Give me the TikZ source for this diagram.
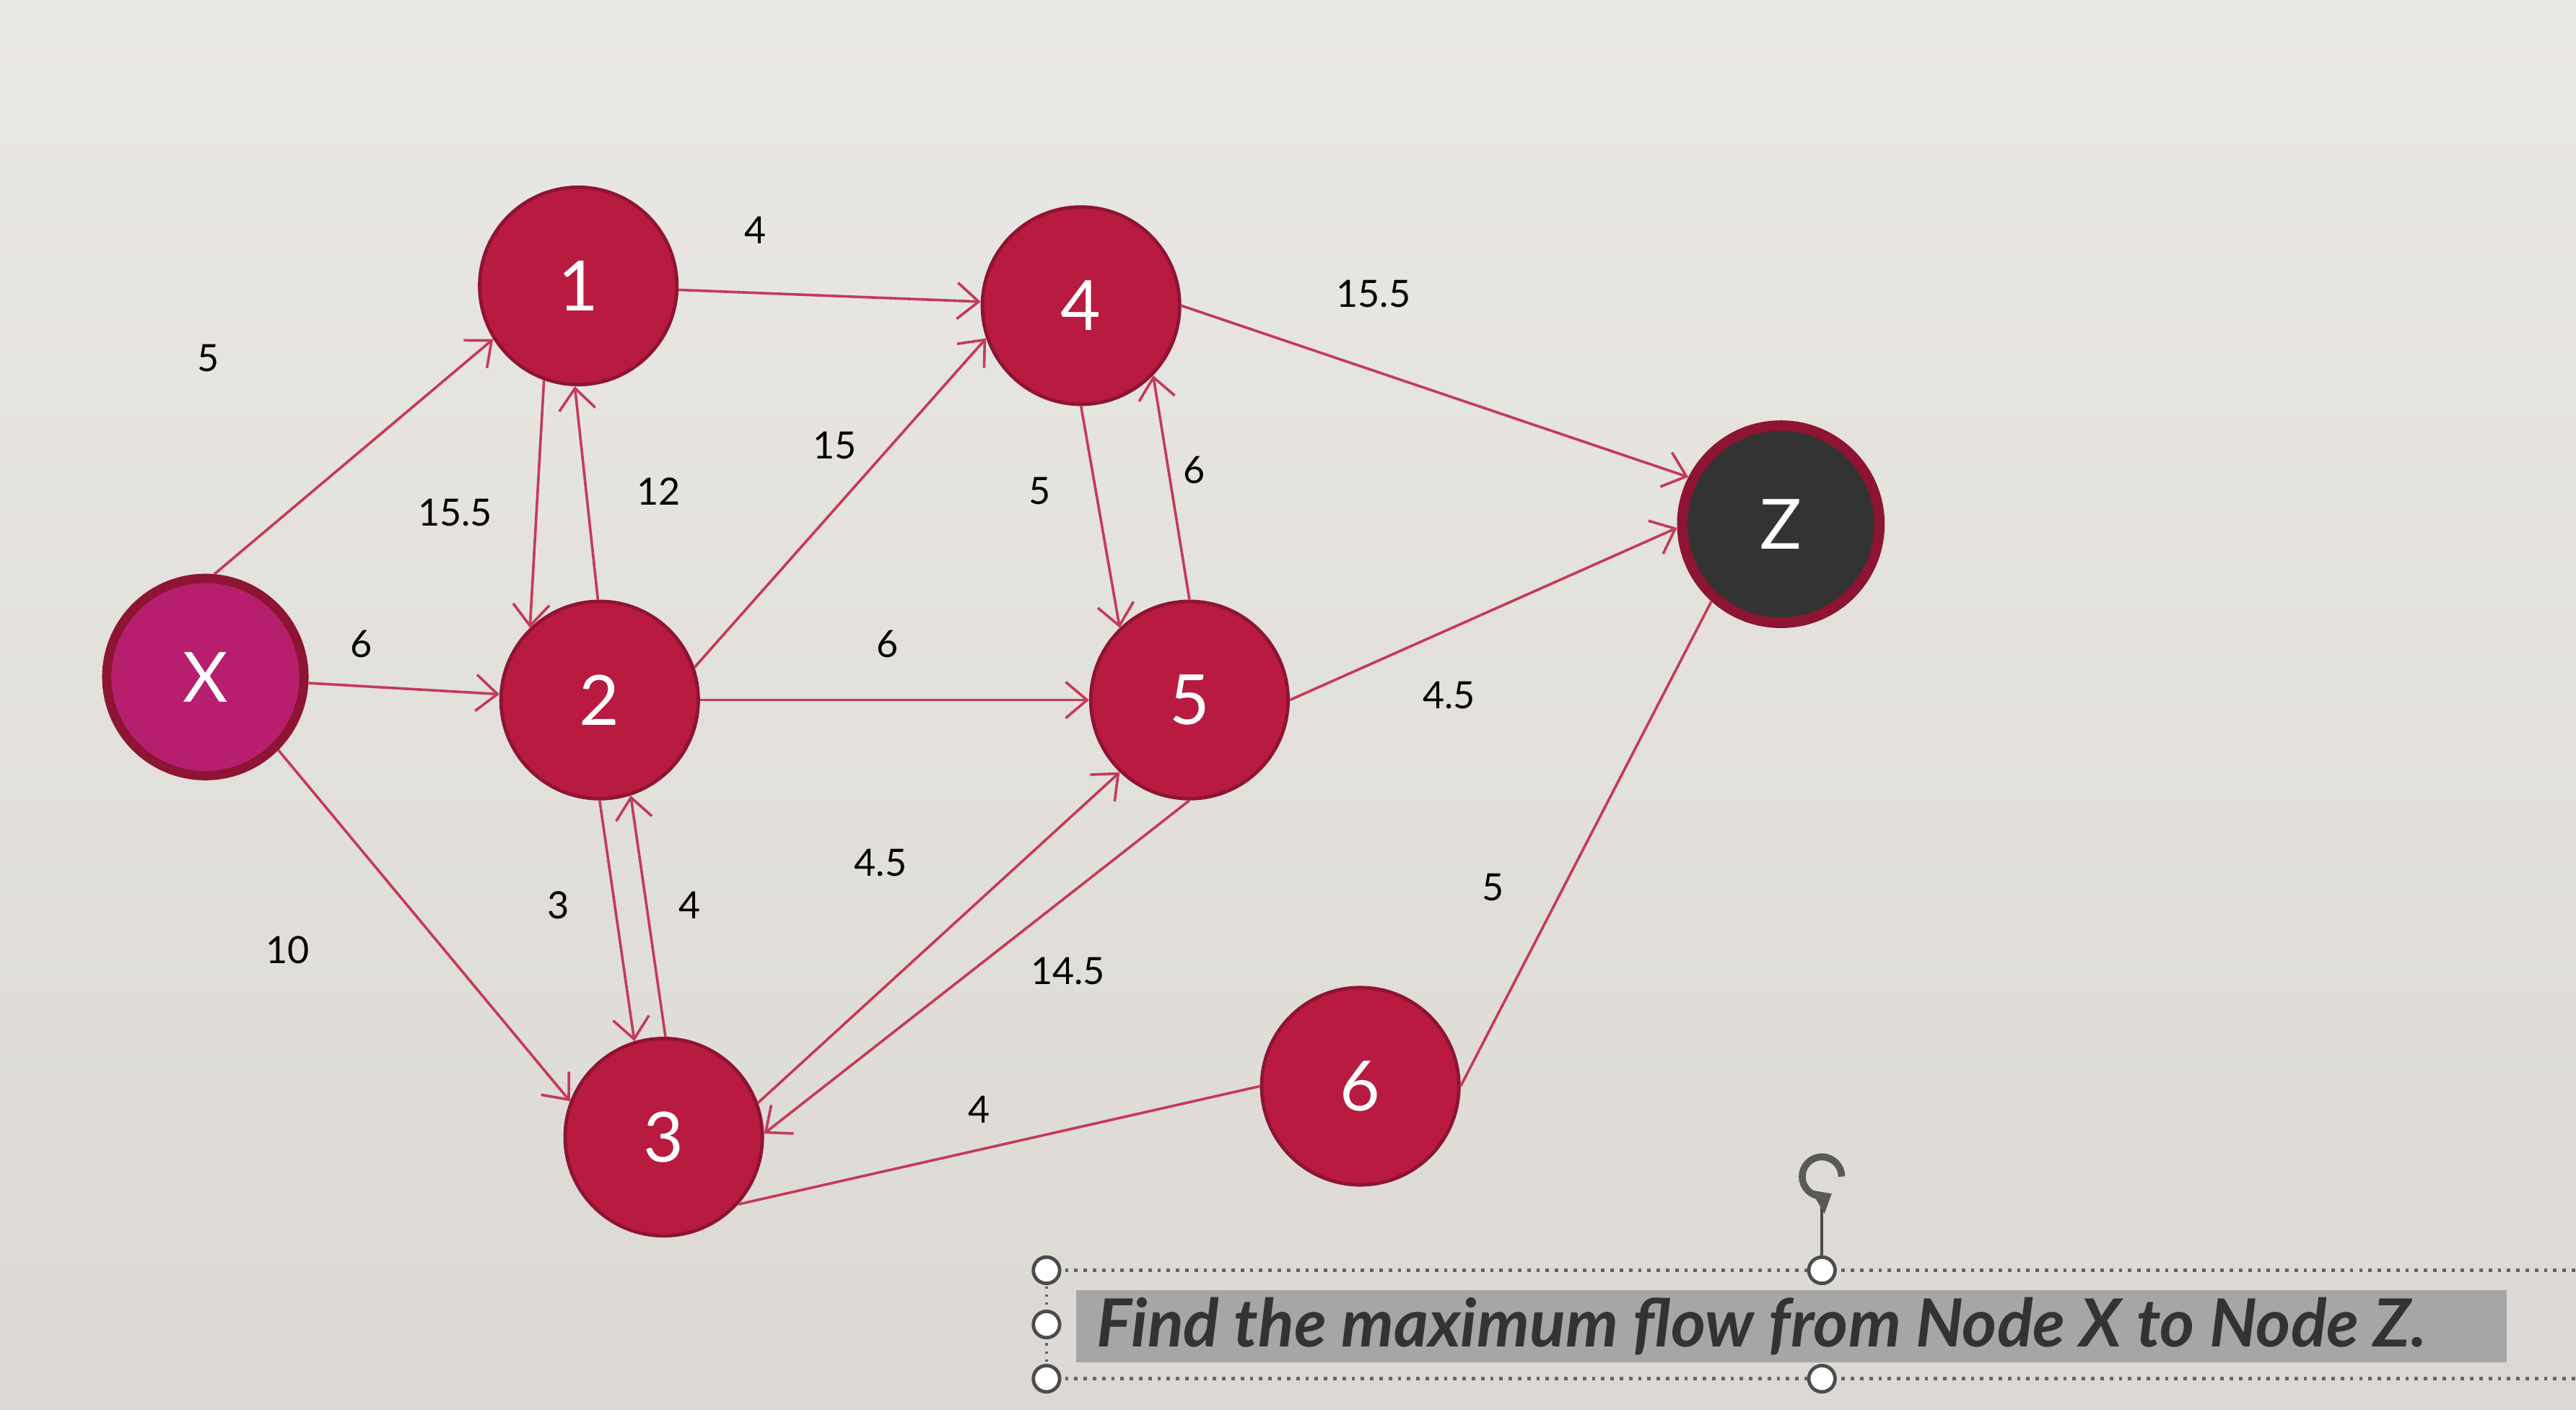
\documentclass[tikz,border=0pt]{standalone}
\usepackage{fontspec}
\setmainfont{Lato}
\usetikzlibrary{arrows.meta}
\definecolor{bgA}{HTML}{EAE8E4}
\definecolor{bgB}{HTML}{DCD9D4}
\definecolor{crim}{HTML}{B81A40}
\definecolor{crimD}{HTML}{8E1433}
\definecolor{magX}{HTML}{B81E6E}
\definecolor{zdark}{HTML}{333333}
\definecolor{edge}{HTML}{C43A5C}
\tikzset{
  vert/.style={circle,minimum size=1.2cm,inner sep=0pt,fill=crim,draw=crimD,line width=0.6pt,text=white,font=\fontsize{12}{12}\selectfont},
  flow/.style={draw=edge,line width=0.45pt,-{Straight Barb[length=1.3mm,width=2.2mm]}},
  plain/.style={draw=edge,line width=0.45pt},
  lab/.style={font=\fontsize{6.5}{7}\selectfont,text=black},
  handle/.style={circle,draw=black!70,fill=white,line width=0.6pt,minimum size=0.16cm,inner sep=0pt}
}
\begin{document}
\begin{tikzpicture}[x=0.01cm,y=-0.01cm]
\shade[top color=bgA,bottom color=bgB] (0,0) rectangle (1568,858);
\useasboundingbox (0,0) rectangle (1568,858);
\node[vert] (n1) at (352,174) {1};
\node[vert] (n4) at (658,186) {4};
\node[vert,fill=magX,draw=crimD,line width=1.6pt] (x) at (125,412) {X};
\node[vert] (n2) at (365,426) {2};
\node[vert] (n5) at (724,426) {5};
\node[vert,fill=zdark,draw=crimD,line width=1.8pt] (z) at (1084,319) {Z};
\node[vert] (n6) at (828,661) {6};
\node[vert] (n3) at (404,692) {3};

\draw[flow] (x.85) -- (n1.212);
\draw[flow] (x) -- (n2);
\draw[flow] (x.-45) -- (n3.159);
\draw[flow] (n1.250) -- (n2.134);
\draw[flow] (n2.91) -- (n1.268);
\draw[flow] (n1) -- (n4);
\draw[flow] (n2.19) -- (n4.199);
\draw[flow] (n2) -- (n5);
\draw[flow] (n2.270) -- (n3.107);
\draw[flow] (n3.89) -- (n2.288);
\draw[flow] (n4.270) -- (n5.134);
\draw[flow] (n5.90) -- (n4.316);
\draw[flow] (n4.0) -- (z.153);
\draw[flow] (n5.0) -- (z.182);
\draw[flow] (n3.20) -- (n5.226);
\draw[flow] (n5.270) -- (n3.2);
\draw[plain] (n3.-42) -- (n6.180);
\draw[plain] (n6.0) -- (z.228);

\node[lab] at (127,218) {5};
\node[lab] at (220,392) {6};
\node[lab] at (175,578) {10};
\node[lab] at (277,312) {15.5};
\node[lab] at (401,299) {12};
\node[lab] at (460,140) {4};
\node[lab] at (508,271) {15};
\node[lab] at (540,392) {6};
\node[lab] at (340,551) {3};
\node[lab] at (420,551) {4};
\node[lab] at (633,299) {5};
\node[lab] at (727,286) {6};
\node[lab] at (836,179) {15.5};
\node[lab] at (882,423) {4.5};
\node[lab] at (536,525) {4.5};
\node[lab] at (650,591) {14.5};
\node[lab] at (596,675) {4};
\node[lab] at (909,540) {5};

% selected text box
\fill[black!35] (655,785) rectangle (1526,829);
\node[font=\fontsize{11.5}{12}\selectfont\bfseries\itshape,text=black!80,anchor=west] (title) at (655,807) {Find the maximum flow from Node X to Node Z.};
\draw[black!60,densely dotted,line width=0.6pt] (637,773) -- (1568,773);
\draw[black!60,densely dotted,line width=0.6pt] (637,839) -- (1568,839);
\draw[black!60,densely dotted,line width=0.4pt] (637,773) -- (637,839);
\draw[black!70,line width=0.5pt] (1109,773) -- (1109,730);
\node[handle] (h1) at (637,773) {};
\node[handle] (h2) at (637,806) {};
\node[handle] (h3) at (637,839) {};
\node[handle] (h4) at (1109,773) {};
\node[handle] (h5) at (1109,839) {};
\draw[black!65,line width=1.2pt,-{Triangle[length=1mm,width=1.6mm]}] (1121,716) arc[start angle=0,end angle=-300,radius=12];
\end{tikzpicture}
\end{document}
